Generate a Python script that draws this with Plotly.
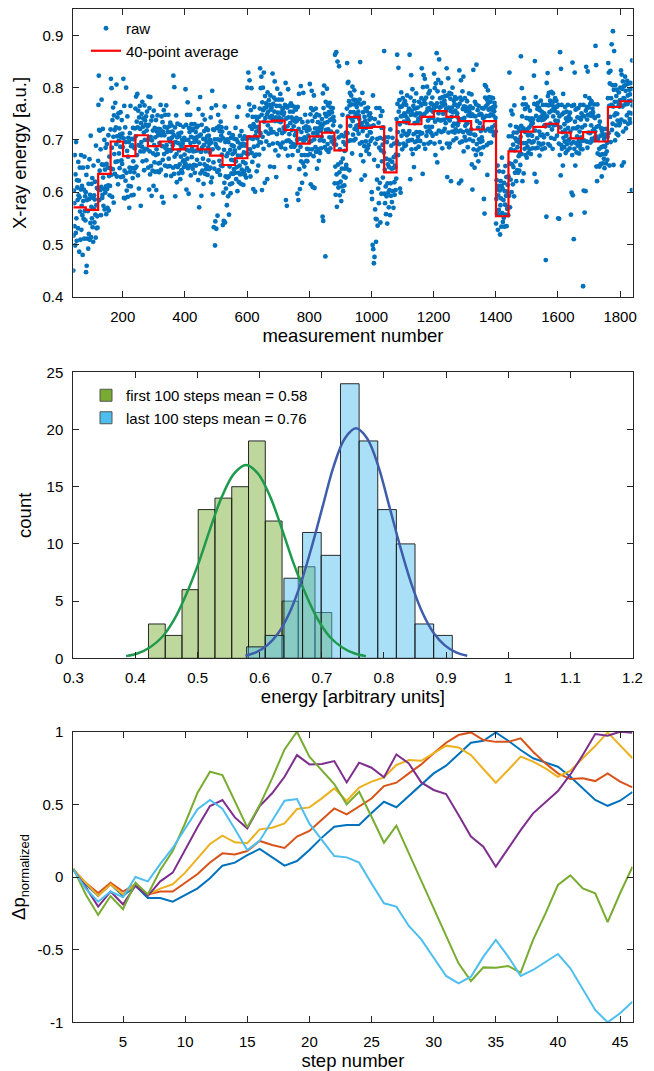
import plotly.graph_objects as go

# ---------------- Panel 1 data: raw X-ray energy (milli a.u.), one value per measurement ----------------
raw_energy_milli = [
    # 41-80
    450, 517, 603, 579, 535, 671, 498, 634, 522, 696, 550, 507, 623, 609, 585, 531, 658, 594, 622, 486,
    590, 647, 563, 509, 605, 671, 528, 574, 612, 556, 480, 647, 583, 549, 605, 511, 668, 564, 592, 546,
    # 81-120
    600, 447, 633, 459, 585, 511, 648, 564, 492, 616, 520, 587, 663, 509, 595, 541, 708, 514, 572, 616,
    550, 627, 533, 589, 505, 651, 568, 594, 542, 586, 620, 557, 513, 689, 575, 531, 608, 554, 532, 606,
    # 121-160
    660, 767, 823, 719, 585, 641, 718, 604, 682, 556, 610, 777, 653, 589, 595, 721, 628, 574, 652, 606,
    700, 567, 643, 599, 685, 611, 558, 654, 692, 606, 570, 647, 613, 709, 565, 631, 668, 594, 612, 646,
    # 161-200
    720, 817, 633, 799, 685, 591, 738, 644, 762, 706, 580, 747, 673, 719, 635, 771, 658, 724, 692, 806,
    630, 707, 743, 659, 615, 751, 698, 674, 722, 646, 710, 687, 753, 629, 705, 661, 738, 654, 712, 686,
    # 201-240
    630, 817, 703, 589, 765, 641, 588, 724, 622, 696, 800, 637, 603, 679, 745, 591, 668, 704, 612, 696,
    570, 647, 713, 639, 765, 611, 688, 594, 702, 646, 690, 627, 723, 659, 595, 701, 638, 684, 722, 646,
    # 241-280
    760, 707, 783, 649, 735, 671, 788, 724, 632, 756, 690, 607, 743, 689, 765, 721, 678, 574, 732, 696,
    750, 687, 773, 659, 725, 741, 678, 714, 642, 766, 700, 737, 683, 729, 745, 661, 718, 754, 682, 726,
    # 281-320
    700, 647, 783, 729, 605, 761, 678, 634, 782, 706, 650, 737, 593, 699, 745, 641, 718, 674, 612, 756,
    690, 657, 723, 639, 705, 671, 738, 604, 682, 716, 640, 747, 673, 709, 655, 721, 638, 694, 712, 656,
    # 321-360
    720, 767, 643, 709, 745, 591, 688, 734, 662, 716, 580, 757, 673, 709, 725, 651, 748, 684, 632, 766,
    690, 677, 723, 649, 715, 681, 748, 664, 702, 726, 650, 697, 733, 679, 715, 631, 728, 704, 682, 716,
    # 361-400
    690, 647, 823, 709, 635, 801, 668, 724, 592, 696, 650, 747, 673, 619, 705, 731, 648, 694, 712, 636,
    680, 707, 653, 729, 625, 691, 668, 714, 642, 686, 700, 637, 693, 659, 725, 661, 648, 704, 672, 656,
    # 401-440
    700, 797, 653, 729, 605, 681, 748, 664, 772, 646, 700, 597, 723, 679, 715, 651, 748, 694, 632, 706,
    730, 667, 683, 719, 645, 721, 678, 704, 652, 696, 730, 637, 703, 679, 715, 651, 698, 724, 662, 706,
    # 441-480
    680, 727, 623, 759, 695, 571, 708, 654, 782, 636, 710, 677, 593, 729, 685, 641, 748, 664, 702, 616,
    690, 717, 653, 739, 635, 701, 678, 644, 722, 696, 650, 707, 633, 719, 685, 661, 708, 644, 692, 676,
    # 481-520
    700, 647, 743, 619, 695, 761, 628, 794, 682, 596, 720, 657, 533, 719, 645, 701, 498, 544, 692, 766,
    530, 687, 723, 639, 555, 701, 748, 684, 642, 726, 660, 717, 633, 699, 735, 651, 708, 724, 672, 716,
    # 521-560
    650, 537, 703, 599, 545, 681, 618, 764, 542, 696, 630, 607, 723, 669, 575, 701, 628, 674, 592, 696,
    630, 557, 713, 649, 615, 681, 598, 704, 662, 636, 690, 617, 673, 709, 635, 661, 688, 644, 702, 676,
    # 561-600
    680, 637, 723, 659, 625, 701, 648, 744, 602, 696, 670, 637, 763, 619, 685, 651, 708, 634, 692, 616,
    670, 717, 643, 689, 635, 701, 658, 614, 692, 676, 640, 707, 633, 689, 655, 691, 628, 674, 702, 646,
    # 601-640
    800, 747, 673, 829, 705, 641, 768, 814, 682, 726, 630, 757, 703, 799, 675, 721, 658, 744, 702, 606,
    730, 687, 763, 669, 725, 601, 708, 744, 672, 716, 640, 737, 703, 689, 725, 651, 718, 744, 672, 696,
    # 641-680
    760, 837, 713, 799, 695, 821, 748, 604, 772, 706, 800, 757, 683, 829, 735, 761, 618, 784, 742, 716,
    770, 697, 763, 749, 625, 791, 728, 754, 712, 776, 690, 767, 743, 649, 785, 721, 758, 714, 762, 746,
    # 681-720
    740, 827, 693, 769, 715, 781, 648, 754, 812, 736, 680, 777, 743, 629, 765, 711, 798, 694, 752, 736,
    670, 777, 743, 719, 765, 691, 788, 734, 752, 686, 740, 777, 713, 759, 695, 761, 748, 724, 752, 716,
    # 721-760
    720, 767, 683, 809, 585, 741, 698, 574, 762, 726, 670, 797, 743, 699, 765, 711, 648, 754, 732, 696,
    770, 687, 743, 719, 765, 671, 738, 754, 692, 726, 740, 687, 763, 709, 735, 691, 758, 714, 742, 736,
    # 761-800
    700, 597, 763, 679, 585, 721, 788, 644, 702, 606, 740, 687, 803, 659, 715, 671, 618, 734, 702, 656,
    790, 697, 723, 649, 705, 671, 748, 634, 702, 726, 660, 717, 683, 659, 735, 671, 708, 724, 682, 696,
    # 801-840
    720, 807, 673, 749, 615, 761, 698, 794, 682, 736, 610, 757, 713, 669, 785, 701, 608, 744, 722, 686,
    760, 677, 713, 749, 645, 721, 708, 734, 682, 716, 660, 747, 723, 699, 675, 731, 718, 684, 722, 706,
    # 841-880
    740, 727, 553, 789, 545, 761, 698, 804, 732, 686, 750, 477, 773, 719, 745, 681, 798, 734, 692, 766,
    720, 677, 753, 749, 705, 771, 738, 684, 762, 716, 740, 697, 753, 739, 705, 761, 728, 744, 692, 736,
    # 881-920
    700, 617, 863, 649, 595, 691, 868, 634, 572, 716, 850, 617, 653, 609, 705, 841, 638, 594, 682, 726,
    620, 657, 583, 709, 645, 611, 748, 664, 602, 696, 630, 707, 613, 679, 645, 691, 628, 714, 652, 646,
    # 921-960
    760, 847, 713, 809, 745, 811, 698, 774, 642, 766, 790, 727, 753, 699, 785, 741, 768, 674, 802, 736,
    710, 777, 753, 699, 795, 721, 768, 744, 702, 776, 750, 727, 763, 719, 745, 771, 728, 754, 712, 746,
    # 961-1000
    740, 777, 693, 849, 725, 671, 768, 624, 732, 696, 790, 717, 753, 659, 725, 771, 688, 744, 632, 736,
    760, 697, 723, 679, 755, 731, 708, 684, 762, 726, 690, 747, 673, 739, 715, 751, 698, 714, 742, 726,
    # 1001-1040
    600, 587, 703, 499, 785, 491, 728, 464, 662, 476, 740, 567, 693, 549, 505, 761, 548, 624, 702, 536,
    650, 607, 733, 579, 685, 761, 618, 704, 542, 746, 680, 597, 723, 659, 755, 691, 628, 724, 702, 676,
    # 1041-1080
    870, 597, 643, 579, 705, 611, 558, 664, 592, 696, 540, 617, 653, 599, 705, 571, 648, 604, 662, 556,
    720, 617, 593, 689, 645, 581, 658, 704, 602, 646, 570, 667, 693, 619, 595, 651, 648, 604, 672, 626,
    # 1081-1120
    740, 697, 863, 769, 715, 671, 838, 754, 692, 776, 730, 607, 763, 599, 745, 791, 708, 764, 682, 746,
    780, 717, 693, 769, 735, 751, 688, 774, 712, 746, 690, 767, 733, 709, 785, 741, 698, 754, 712, 736,
    # 1121-1160
    760, 717, 863, 699, 625, 781, 748, 824, 682, 756, 700, 797, 673, 749, 765, 711, 648, 774, 732, 696,
    760, 747, 683, 789, 715, 751, 698, 734, 762, 706, 740, 687, 773, 739, 715, 751, 698, 744, 712, 766,
    # 1161-1200
    780, 837, 713, 769, 635, 801, 748, 824, 692, 776, 750, 817, 683, 769, 725, 781, 708, 754, 802, 716,
    760, 737, 693, 789, 725, 761, 718, 794, 742, 696, 770, 757, 713, 769, 725, 781, 708, 754, 742, 766,
    # 1201-1240
    760, 827, 693, 799, 735, 671, 808, 764, 712, 866, 770, 657, 793, 739, 815, 751, 718, 854, 762, 696,
    780, 737, 763, 809, 715, 771, 738, 684, 782, 766, 750, 717, 793, 739, 775, 721, 768, 784, 732, 756,
    # 1241-1280
    760, 837, 693, 629, 785, 741, 818, 714, 762, 686, 790, 737, 693, 779, 755, 621, 788, 744, 762, 716,
    800, 727, 753, 699, 775, 731, 768, 714, 782, 756, 720, 767, 703, 779, 745, 751, 728, 764, 732, 716,
    # 1281-1320
    740, 617, 833, 769, 695, 781, 718, 814, 622, 776, 740, 697, 793, 759, 715, 821, 678, 764, 742, 706,
    780, 727, 763, 699, 755, 731, 718, 774, 732, 686, 760, 747, 713, 789, 755, 701, 748, 764, 712, 746,
    # 1321-1360
    720, 787, 653, 749, 605, 761, 698, 834, 682, 746, 710, 647, 773, 709, 745, 671, 768, 844, 692, 736,
    680, 757, 723, 659, 765, 701, 748, 684, 732, 696, 750, 717, 673, 749, 705, 761, 698, 724, 742, 686,
    # 1361-1400
    760, 587, 743, 559, 805, 781, 718, 764, 802, 746, 690, 777, 633, 769, 795, 721, 758, 694, 782, 746,
    760, 717, 773, 749, 695, 781, 758, 724, 762, 716, 780, 747, 763, 709, 755, 771, 728, 764, 742, 716,
    # 1401-1440
    540, 587, 623, 559, 605, 651, 528, 594, 612, 566, 640, 557, 603, 519, 575, 621, 588, 534, 612, 666,
    560, 607, 543, 639, 585, 551, 618, 534, 602, 576, 650, 557, 593, 629, 535, 601, 568, 614, 572, 556,
    # 1441-1480
    630, 707, 593, 829, 655, 571, 728, 624, 682, 756, 600, 707, 653, 749, 615, 691, 648, 714, 592, 766,
    680, 637, 703, 659, 725, 621, 698, 714, 642, 686, 700, 637, 723, 669, 695, 641, 718, 674, 652, 706,
    # 1481-1520
    860, 727, 673, 799, 745, 621, 768, 694, 722, 636, 780, 717, 683, 759, 715, 671, 768, 694, 742, 666,
    720, 687, 763, 709, 675, 741, 698, 724, 682, 756, 710, 737, 673, 729, 695, 741, 708, 684, 732, 696,
    # 1521-1560
    740, 697, 823, 769, 635, 851, 718, 684, 782, 746, 620, 767, 703, 759, 685, 771, 738, 694, 762, 716,
    670, 757, 743, 709, 775, 691, 738, 754, 682, 746, 710, 767, 693, 739, 705, 751, 728, 684, 742, 726,
    # 1561-1600
    470, 767, 553, 809, 745, 711, 828, 784, 692, 766, 790, 727, 753, 689, 775, 731, 768, 704, 792, 756,
    720, 767, 683, 789, 745, 761, 728, 774, 702, 756, 780, 737, 763, 729, 775, 731, 708, 764, 752, 736,
    # 1601-1640
    550, 767, 693, 549, 745, 671, 868, 724, 632, 836, 690, 767, 683, 749, 715, 651, 788, 704, 752, 686,
    730, 697, 763, 719, 675, 741, 708, 754, 692, 736, 680, 767, 723, 699, 745, 701, 738, 684, 752, 716,
    # 1641-1680
    740, 557, 693, 599, 765, 671, 848, 594, 722, 696, 510, 767, 683, 829, 735, 651, 758, 694, 722, 676,
    760, 707, 743, 689, 725, 761, 698, 674, 742, 716, 690, 767, 683, 739, 705, 751, 698, 724, 682, 746,
    # 1681-1720
    420, 767, 603, 699, 745, 561, 728, 784, 602, 756, 840, 697, 763, 739, 685, 831, 748, 714, 762, 696,
    780, 747, 713, 769, 695, 751, 728, 774, 702, 746, 760, 717, 753, 699, 745, 721, 768, 704, 742, 716,
    # 1721-1760
    880, 707, 843, 649, 725, 621, 768, 674, 702, 746, 650, 727, 683, 649, 735, 671, 708, 654, 722, 686,
    630, 717, 673, 709, 655, 721, 688, 664, 702, 646, 710, 687, 673, 709, 655, 721, 678, 694, 662, 706,
    # 1761-1800
    780, 847, 713, 829, 765, 651, 808, 744, 832, 696, 780, 767, 883, 719, 805, 731, 908, 764, 652, 796,
    870, 747, 773, 699, 805, 751, 728, 784, 712, 796, 750, 737, 773, 709, 765, 791, 728, 764, 732, 776,
    # 1801-1840
    800, 767, 833, 739, 825, 651, 798, 764, 812, 716, 780, 657, 803, 779, 735, 821, 768, 794, 722, 806,
    770, 747, 813, 769, 785, 731, 808, 774, 752, 796, 740, 787, 733, 809, 775, 751, 798, 604, 852, 766,
]
first_measurement = 41
measurement_number = list(range(first_measurement, first_measurement + len(raw_energy_milli)))
raw_energy = [v / 1000 for v in raw_energy_milli]

# 40-point averages (one level per 40-measurement block, read from the red staircase)
avg_block_edges = list(range(41, 1842, 40))  # 41, 81, ..., 1841
avg_energy = [0.571, 0.566, 0.635, 0.697, 0.669, 0.709, 0.688, 0.697, 0.682, 0.688,
              0.682, 0.670, 0.652, 0.665, 0.707, 0.735, 0.737, 0.719, 0.693, 0.707,
              0.714, 0.680, 0.744, 0.723, 0.725, 0.638, 0.734, 0.730, 0.744, 0.755,
              0.744, 0.736, 0.720, 0.736, 0.554, 0.678, 0.716, 0.725, 0.731, 0.714,
              0.703, 0.715, 0.697, 0.763, 0.774]

# ---------------- Panel 2 data: histograms ----------------
first_edges = [0.421, 0.448, 0.475, 0.501, 0.528, 0.555, 0.582, 0.609, 0.636, 0.662, 0.689, 0.716]
first_counts = [3, 2, 6, 13, 14, 15, 19, 12, 5, 8, 4]
last_edges = [0.579, 0.609, 0.639, 0.669, 0.699, 0.730, 0.760, 0.790, 0.820, 0.850, 0.880, 0.910]
last_counts = [1, 2, 7, 11, 9, 24, 19, 13, 10, 3, 2]

first_fit_x = [0.385, 0.404, 0.423, 0.443, 0.462, 0.481, 0.501, 0.520, 0.539, 0.559, 0.578,
               0.597, 0.617, 0.636, 0.655, 0.675, 0.694, 0.713, 0.733, 0.752, 0.771]
first_fit_y = [0.19, 0.44, 0.95, 1.86, 3.35, 5.49, 8.23, 11.27, 14.11, 16.16, 16.9,
               16.16, 14.11, 11.27, 8.23, 5.49, 3.35, 1.86, 0.95, 0.44, 0.19]
last_fit_x = [0.577, 0.594, 0.612, 0.630, 0.648, 0.666, 0.684, 0.702, 0.719, 0.737, 0.755,
              0.773, 0.791, 0.808, 0.826, 0.844, 0.862, 0.880, 0.898, 0.916, 0.934]
last_fit_y = [0.22, 0.52, 1.13, 2.21, 3.98, 6.53, 9.79, 13.41, 16.78, 19.22, 20.1,
              19.22, 16.78, 13.41, 9.79, 6.53, 3.98, 2.21, 1.13, 0.52, 0.22]

# ---------------- Panel 3 data: normalized delta p per step ----------------
step_number = list(range(1, 47))
dp_series = {
    "s1": [0.05, -0.05, -0.13, -0.05, -0.13, -0.06, -0.145, -0.145, -0.17, -0.124,
           -0.078, -0.009, 0.078, 0.099, 0.151, 0.193, 0.135, 0.078, 0.11, 0.186,
           0.271, 0.346, 0.358, 0.358, 0.44, 0.518, 0.48, 0.557, 0.638, 0.713,
           0.766, 0.844, 0.924, 0.938, 0.995, 0.938, 0.874, 0.817, 0.787, 0.759,
           0.69, 0.61, 0.53, 0.49, 0.525, 0.585],
    "s2": [0.05, -0.04, -0.11, -0.04, -0.10, -0.05, -0.12, -0.10, -0.10, -0.04,
           0.02, 0.10, 0.163, 0.155, 0.179, 0.248, 0.22, 0.20, 0.278, 0.317,
           0.392, 0.472, 0.431, 0.484, 0.54, 0.626, 0.649, 0.713, 0.775, 0.851,
           0.924, 0.977, 0.995, 0.943, 0.93, 0.93, 0.954, 0.862, 0.782, 0.713,
           0.674, 0.679, 0.66, 0.713, 0.656, 0.617],
    "s3": [0.05, -0.04, -0.13, -0.05, -0.12, -0.05, -0.12, -0.08, -0.05, 0.03,
           0.128, 0.227, 0.284, 0.239, 0.232, 0.328, 0.339, 0.369, 0.468, 0.479,
           0.541, 0.61, 0.523, 0.615, 0.656, 0.686, 0.771, 0.805, 0.80, 0.851,
           0.904, 0.892, 0.839, 0.743, 0.649, 0.736, 0.828, 0.794, 0.748, 0.69,
           0.732, 0.817, 0.901, 0.995, 0.908, 0.817],
    "s4": [0.05, -0.07, -0.204, -0.10, -0.188, -0.06, -0.13, -0.03, 0.03, 0.19,
           0.344, 0.488, 0.53, 0.41, 0.335, 0.488, 0.576, 0.69, 0.839, 0.775,
           0.778, 0.798, 0.651, 0.787, 0.752, 0.686, 0.844, 0.782, 0.651, 0.599,
           0.571, 0.427, 0.278, 0.209, 0.071, 0.197, 0.323, 0.438, 0.518, 0.592,
           0.706, 0.839, 0.984, 0.972, 1.0, 0.993],
    "s5": [0.06, -0.12, -0.261, -0.131, -0.222, -0.039, -0.12, 0.048, 0.179, 0.37,
           0.58, 0.725, 0.702, 0.518, 0.342, 0.495, 0.679, 0.878, 1.0, 0.828,
           0.736, 0.64, 0.5, 0.587, 0.415, 0.236, 0.353, 0.163, -0.027, -0.217,
           -0.406, -0.594, -0.716, -0.622, -0.624, -0.612, -0.658, -0.433, -0.25, -0.055,
           0.011, -0.078, -0.112, -0.31, -0.112, 0.071],
    "s6": [0.05, -0.08, -0.17, -0.10, -0.14, 0.0, -0.03, 0.09, 0.20, 0.33,
           0.466, 0.53, 0.47, 0.33, 0.186, 0.25, 0.388, 0.525, 0.537, 0.367,
           0.255, 0.144, 0.135, 0.099, -0.044, -0.181, -0.204, -0.337, -0.429, -0.553,
           -0.681, -0.732, -0.686, -0.548, -0.433, -0.548, -0.681, -0.64, -0.583, -0.53,
           -0.628, -0.773, -0.915, -1.0, -0.938, -0.858],
}
series_colors = ["#0072BD", "#D95319", "#EDB120", "#7E2F8E", "#77AC30", "#4DBEEE"]

# ---------------- figure ----------------
W, H = 654, 1071
FONT = "Liberation Sans, Arial, Helvetica, sans-serif"
INK = "#262626"

def px_x(a, b):
    return [a / W, b / W]

def px_y(top, bottom):
    return [1 - bottom / H, 1 - top / H]

fig = go.Figure()

# Panel 1
fig.add_trace(go.Scatter(
    x=measurement_number, y=raw_energy, mode="markers", name="raw",
    marker=dict(color="#0072BD", size=4.8, line=dict(width=0)),
    xaxis="x", yaxis="y", legend="legend"))
step_x = avg_block_edges
step_y = avg_energy + [avg_energy[-1]]
fig.add_trace(go.Scatter(
    x=step_x, y=step_y, mode="lines", name="40-point average", line_shape="hv",
    line=dict(color="#FF0000", width=2.2), xaxis="x", yaxis="y", legend="legend"))

# Panel 2 histograms
def centers(edges):
    return [(edges[i] + edges[i + 1]) / 2 for i in range(len(edges) - 1)]

def widths(edges):
    return [edges[i + 1] - edges[i] for i in range(len(edges) - 1)]

fig.add_trace(go.Bar(
    x=centers(first_edges), y=first_counts, width=widths(first_edges),
    marker=dict(color="rgba(119,172,48,0.48)", line=dict(color="rgba(20,20,20,0.9)", width=1)),
    showlegend=False, xaxis="x2", yaxis="y2"))
fig.add_trace(go.Bar(
    x=centers(last_edges), y=last_counts, width=widths(last_edges),
    marker=dict(color="rgba(77,190,238,0.48)", line=dict(color="rgba(20,20,20,0.9)", width=1)),
    showlegend=False, xaxis="x2", yaxis="y2"))
fig.add_trace(go.Scatter(
    x=first_fit_x, y=first_fit_y, mode="lines", line_shape="spline",
    line=dict(color="#1E9A4C", width=2.5), showlegend=False, xaxis="x2", yaxis="y2"))
fig.add_trace(go.Scatter(
    x=last_fit_x, y=last_fit_y, mode="lines", line_shape="spline",
    line=dict(color="#3E5DAA", width=2.5), showlegend=False, xaxis="x2", yaxis="y2"))
# legend entries (solid swatches as in the original)
fig.add_trace(go.Bar(x=[None], y=[None], name="first 100 steps mean = 0.58",
                     marker=dict(color="#77AC30", line=dict(color="#555555", width=1)),
                     xaxis="x2", yaxis="y2", legend="legend2"))
fig.add_trace(go.Bar(x=[None], y=[None], name="last 100 steps mean = 0.76",
                     marker=dict(color="#4DBEEE", line=dict(color="#555555", width=1)),
                     xaxis="x2", yaxis="y2", legend="legend2"))

# Panel 3 lines
for (key, vals), col in zip(dp_series.items(), series_colors):
    fig.add_trace(go.Scatter(
        x=step_number, y=vals, mode="lines", name=key, line=dict(color=col, width=2),
        showlegend=False, xaxis="x3", yaxis="y3"))

axis_common = dict(
    showline=True, linecolor=INK, linewidth=1, mirror="ticks",
    ticks="inside", ticklen=6, tickwidth=1, tickcolor=INK,
    showgrid=False, zeroline=False,
    tickfont=dict(family=FONT, size=15, color="black"),
    automargin=False,
)
title_font = dict(family=FONT, size=18.5, color="black")

xdom = px_x(73.3, 632.5)
fig.update_layout(
    width=W, height=H,
    margin=dict(l=0, r=0, t=0, b=0),
    paper_bgcolor="white", plot_bgcolor="white",
    barmode="overlay",
    font=dict(family=FONT, color="black"),
    xaxis=dict(domain=xdom, anchor="y", range=[41, 1840],
               tickvals=[200, 400, 600, 800, 1000, 1200, 1400, 1600, 1800],
               ticklabelstandoff=6,
               title=dict(text="measurement number", font=title_font, standoff=4), **axis_common),
    yaxis=dict(domain=px_y(9.3, 296.7), anchor="x", range=[0.4, 0.95],
               tickvals=[0.4, 0.5, 0.6, 0.7, 0.8, 0.9],
               ticktext=["0.4", "0.5", "0.6", "0.7", "0.8", "0.9"],
               ticklabelstandoff=6,
               title=dict(text="X-ray energy [a.u.]", font=title_font, standoff=10), **axis_common),
    xaxis2=dict(domain=xdom, anchor="y2", range=[0.3, 1.2],
                tickvals=[0.3, 0.4, 0.5, 0.6, 0.7, 0.8, 0.9, 1.0, 1.1, 1.2],
                ticktext=["0.3", "0.4", "0.5", "0.6", "0.7", "0.8", "0.9", "1", "1.1", "1.2"],
                ticklabelstandoff=6,
                title=dict(text="energy [arbitrary units]", font=title_font, standoff=4), **axis_common),
    yaxis2=dict(domain=px_y(372.3, 658.3), anchor="x2", range=[0, 25],
                tickvals=[0, 5, 10, 15, 20, 25],
                ticklabelstandoff=6,
                title=dict(text="count", font=title_font, standoff=10), **axis_common),
    xaxis3=dict(domain=xdom, anchor="y3", range=[1, 46],
                tickvals=[5, 10, 15, 20, 25, 30, 35, 40, 45],
                ticklabelstandoff=6,
                title=dict(text="step number", font=title_font, standoff=2), **axis_common),
    yaxis3=dict(domain=px_y(731.7, 1022.3), anchor="x3", range=[-1, 1],
                tickvals=[-1, -0.5, 0, 0.5, 1],
                ticktext=["-1", "-0.5", "0", "0.5", "1"],
                ticklabelstandoff=6,
                title=dict(text="Δp<sub>normalized</sub>", font=title_font, standoff=6), **axis_common),
    legend=dict(x=86 / W, y=1 - 12 / H, xanchor="left", yanchor="top",
                bgcolor="rgba(0,0,0,0)", borderwidth=0,
                font=dict(family=FONT, size=15, color="black"), tracegroupgap=0),
    legend2=dict(x=86 / W, y=1 - 379 / H, xanchor="left", yanchor="top",
                 bgcolor="rgba(0,0,0,0)", borderwidth=0,
                 font=dict(family=FONT, size=15, color="black"), tracegroupgap=0),
)

fig.write_html("out.html")
